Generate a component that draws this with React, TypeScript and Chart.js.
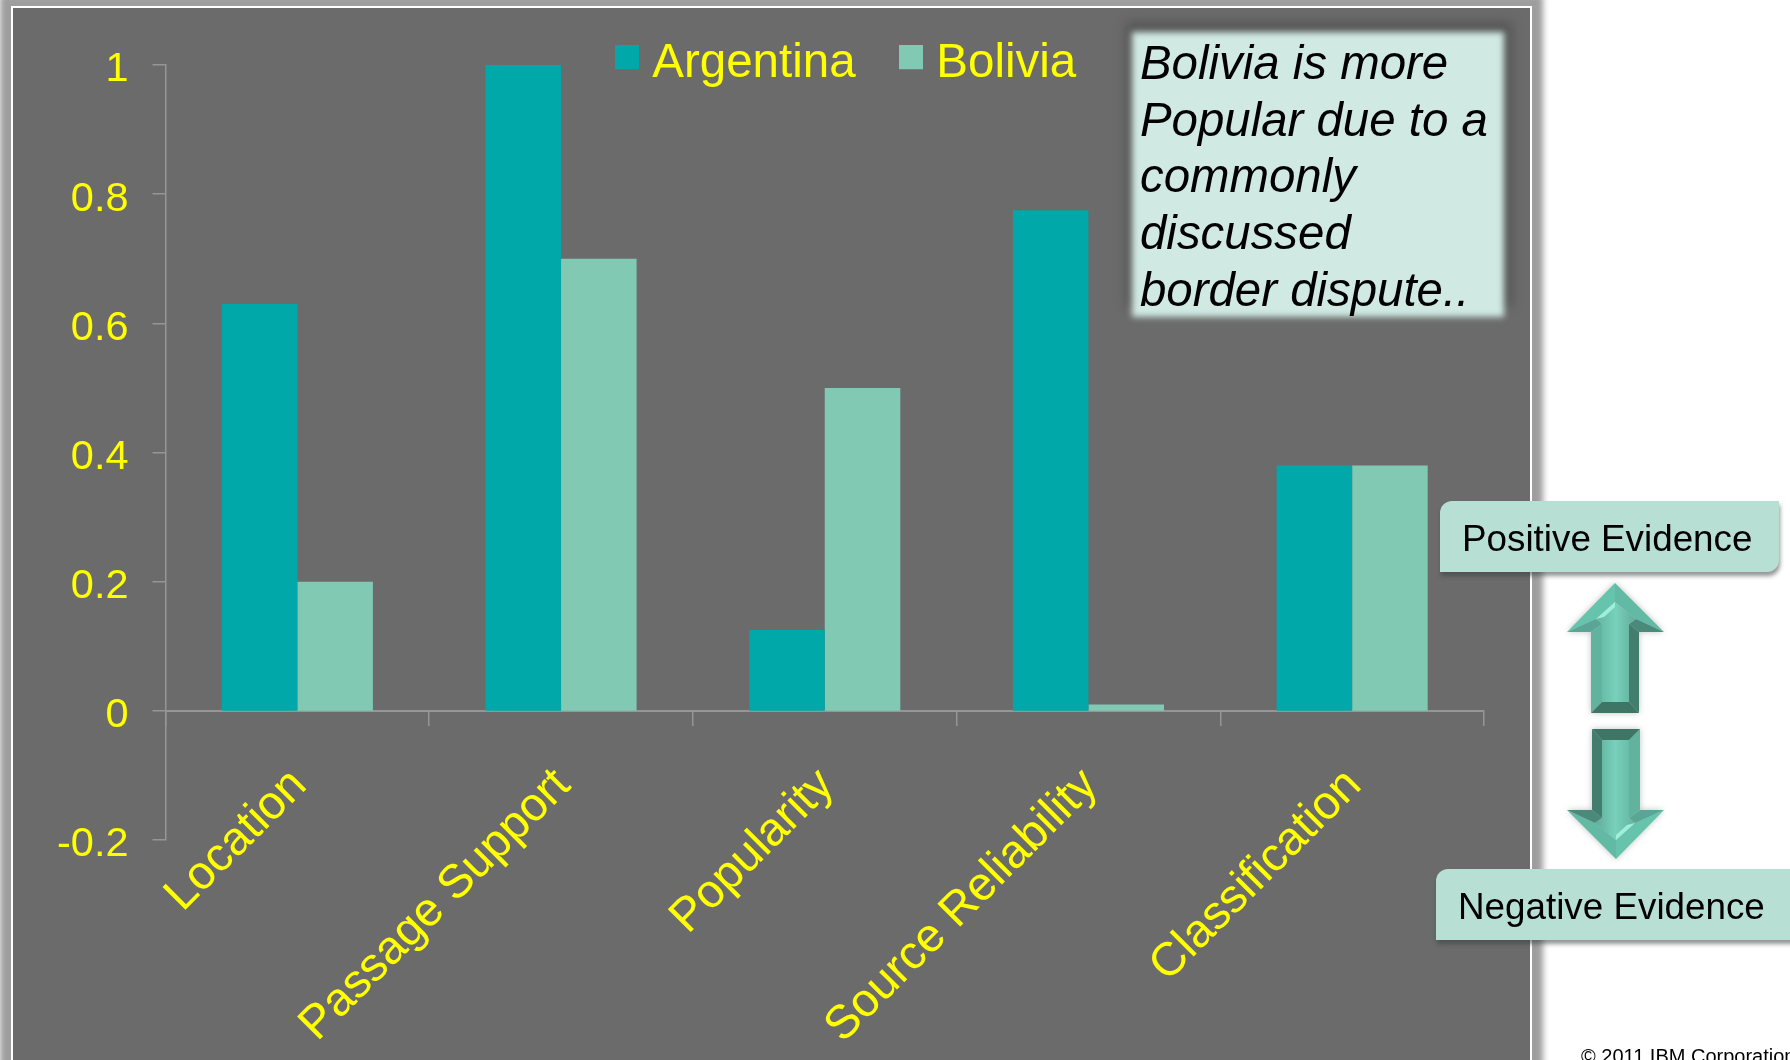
import React, { useEffect, useRef } from "react";
import { Chart, registerables } from "chart.js";

Chart.register(...registerables);

const categories = ["Location", "Passage Support", "Popularity", "Source Reliability", "Classification"];
const argentina = [0.63, 1, 0.125, 0.775, 0.38];
const bolivia = [0.2, 0.7, 0.5, 0.01, 0.38];
const noteLines = ["Bolivia is more", "Popular due to a", "commonly", "discussed", "border dispute.."];

const SANS = '"Liberation Sans", Arial, sans-serif';
const YELLOW = "#ffff00";
const AXIS = "#969696";
const TEAL = "#00a8aa";
const MINT = "#82c9b4";

// Square legend swatch; the transparent strip below it lifts the square off the text's midline.
function swatch(color: string) {
  const c = document.createElement("canvas");
  c.width = 24;
  c.height = 37;
  const ctx = c.getContext("2d")!;
  ctx.fillStyle = color;
  ctx.fillRect(0, 0, 24, 24);
  return c;
}

// The legend sits inside the plot, so it takes no height from the layout and is moved afterwards.
const legendPlacement = {
  id: "legendPlacement",
  beforeInit(chart: any) {
    const legend = chart.legend;
    const fit = legend.fit;
    legend.fit = function () {
      fit.call(legend);
      legend.height = 0;
    };
  },
  afterLayout(chart: any) {
    const l = chart.legend;
    l.left = 571.5;
    l.right = 1400;
    l.top = -14;
    l.bottom = 100;
  },
};

function Arrow({ down }: { down?: boolean }) {
  // Bevelled block arrow, drawn pointing up and turned half a circle for the downward one.
  const id = down ? "faceDown" : "faceUp";
  return (
    <svg
      width={100}
      height={134}
      viewBox="0 0 100 134"
      style={{
        position: "absolute",
        left: down ? 1564.6 : 1566,
        top: down ? 725.5 : 582,
        transform: down ? "rotate(180deg)" : undefined,
        filter: "blur(0.6px) drop-shadow(0 0 3px rgba(90,110,105,0.4))",
      }}
    >
      <defs>
        <linearGradient id={id} x1="0" x2="1" y1="0" y2="0">
          <stop offset="0" stopColor="#62b5a2" />
          <stop offset="0.5" stopColor="#78d1ba" />
          <stop offset="1" stopColor="#60ab99" />
        </linearGradient>
      </defs>
      <polygon points="49,1 1,50 30,37 49,20" fill="#66c3ac" />
      <polygon points="49,1 98,50 70,37 49,20" fill="#62b9a4" />
      <polygon points="1,50 25,50 36,42 30,37" fill="#5aa595" />
      <polygon points="98,50 73,50 63,42 70,37" fill="#4a8a7a" />
      <polygon points="25,50 36,42 36,120 25,131" fill="#62b2a0" />
      <polygon points="73,50 63,42 63,120 73,131" fill="#437d6e" />
      <polygon points="25,131 36,120 63,120 73,131" fill="#3f7565" />
      <polygon points="49,20 30,37 36,42 36,120 63,120 63,42 70,37" fill={`url(#${id})`} />
      <polygon points="49,20 30,37 38,35 49,25" fill="#a0efdc" />
    </svg>
  );
}

function EvidenceTag({ text, left, top, width, textLeft }: { text: string; left: number; top: number; width: number; textLeft: number }) {
  return (
    <div
      style={{
        position: "absolute",
        left,
        top,
        width,
        height: 71,
        background: "#b7dfd3",
        borderRadius: "12px 0 12px 0",
        boxShadow: "1px 4px 4px rgba(60,60,60,0.55)",
        font: `36.8px ${SANS}`,
        color: "#000",
      }}
    >
      <span style={{ position: "absolute", left: textLeft, top: 17, lineHeight: "42px", whiteSpace: "nowrap" }}>{text}</span>
    </div>
  );
}

export default function App() {
  const canvasRef = useRef<HTMLCanvasElement>(null);

  useEffect(() => {
    const swatches = [swatch(TEAL), swatch(MINT)];
    const chart = new Chart(canvasRef.current!, {
      type: "bar",
      data: {
        labels: categories,
        datasets: [
          { label: "Argentina", data: argentina, backgroundColor: TEAL, borderWidth: 0 },
          { label: "Bolivia", data: bolivia, backgroundColor: MINT, borderWidth: 0 },
        ],
      },
      plugins: [legendPlacement],
      options: {
        responsive: false,
        animation: false,
        devicePixelRatio: 1,
        layout: { padding: { left: 0, top: 65, right: 306, bottom: 220 } },
        datasets: { bar: { categoryPercentage: 0.573, barPercentage: 1 } },
        plugins: {
          title: { display: false },
          tooltip: { enabled: false },
          legend: {
            position: "top",
            align: "start",
            labels: {
              color: YELLOW,
              font: { family: SANS, size: 47.5 },
              usePointStyle: true,
              boxWidth: 3,
              boxHeight: 24,
              padding: 54,
              generateLabels: (c: any) =>
                Chart.defaults.plugins.legend.labels.generateLabels(c).map((item: any, i: number) => ({
                  ...item,
                  pointStyle: swatches[i],
                })),
            },
          },
        },
        scales: {
          x: {
            position: { y: 0 },
            grid: { drawOnChartArea: false, drawTicks: true, tickLength: 14, color: AXIS, lineWidth: 1.5, offset: true },
            border: { color: AXIS, width: 2 },
            ticks: {
              color: YELLOW,
              font: { family: SANS, size: 47 },
              minRotation: 45,
              maxRotation: 45,
              padding: 33,
              labelOffset: 2,
              autoSkip: false,
            },
          },
          y: {
            min: -0.2,
            max: 1,
            afterFit: (scale: any) => {
              scale.width = 165.5;
            },
            grid: { drawOnChartArea: false, drawTicks: true, tickLength: 13, color: AXIS, lineWidth: 1.5 },
            border: { color: AXIS, width: 1.5 },
            ticks: {
              stepSize: 0.2,
              color: YELLOW,
              font: { family: SANS, size: 41.5 },
              padding: 24,
              labelOffset: 5,
              callback: (v: any) => String(Number(Number(v).toFixed(1))),
            },
          },
        },
      },
    } as any);
    return () => chart.destroy();
  }, []);

  return (
    <div style={{ position: "absolute", left: 0, top: 0, width: 1790, height: 1060, overflow: "hidden", background: "#fff" }}>
      {/* Slide panel with its soft grey halo */}
      <div
        style={{
          position: "absolute",
          left: 11,
          top: 6,
          width: 1517,
          height: 1200,
          background: "#6b6b6b",
          border: "2px solid #fff",
          boxShadow: "0 0 6px 11px #9e9e9e",
        }}
      />
      <canvas ref={canvasRef} width={1790} height={1060} style={{ position: "absolute", left: 0, top: 0, display: "block" }} />

      {/* Commentary note with feathered edges */}
      <div style={{ position: "absolute", left: 1126, top: 22, width: 386, height: 285, background: "#555", filter: "blur(6px)" }} />
      <div style={{ position: "absolute", left: 1132, top: 32, width: 372, height: 285, background: "#d0e9e2", filter: "blur(3px)" }} />
      <div style={{ position: "absolute", left: 1140, top: 35, font: `italic 47.4px/56.7px ${SANS}`, color: "#000", whiteSpace: "nowrap" }}>
        {noteLines.map((t) => (
          <div key={t}>{t}</div>
        ))}
      </div>

      <EvidenceTag text="Positive Evidence" left={1440} top={501} width={339} textLeft={22} />
      <Arrow />
      <Arrow down />
      <EvidenceTag text="Negative Evidence" left={1436} top={869} width={370} textLeft={22} />

      <div style={{ position: "absolute", left: 1581, top: 1045, font: `20px ${SANS}`, color: "#000", whiteSpace: "nowrap" }}>© 2011 IBM Corporation</div>
    </div>
  );
}
